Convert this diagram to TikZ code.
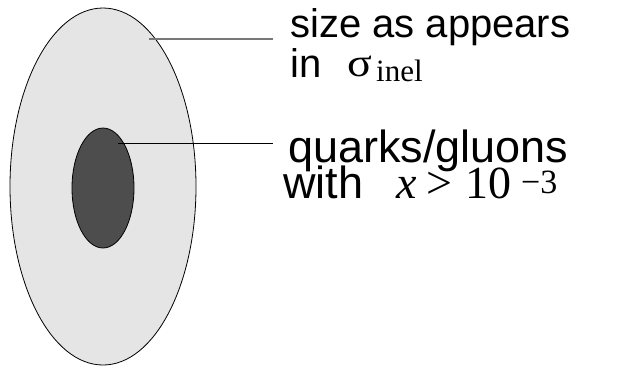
\documentclass[tikz,border=0pt]{standalone}
\usepackage{fontspec}
\setmainfont{Liberation Sans}
\newfontfamily\seriffont{Liberation Serif}
\usetikzlibrary{shapes.geometric}
\definecolor{outerfill}{RGB}{229,229,229}
\definecolor{innerfill}{RGB}{77,77,77}
\definecolor{leadgray}{RGB}{120,120,120}
\begin{document}
\begin{tikzpicture}[x=1pt,y=-1pt,
  blob/.style={draw=black, line width=0.8pt, ellipse, inner sep=0pt},
  labelbase/.style={anchor=base west, inner sep=0pt},
  sansA/.style={labelbase, font=\fontsize{40}{40}\selectfont},
  sansB/.style={labelbase, font=\fontsize{45}{45}\selectfont},
  serifbig/.style={labelbase, font=\fontsize{46}{46}\selectfont\seriffont},
  serifsub/.style={labelbase, font=\fontsize{31}{31}\selectfont\seriffont},
  serifsup/.style={labelbase, font=\fontsize{34}{34}\selectfont\seriffont}]
\useasboundingbox (0,0) rectangle (618,368);
% nucleon and its dense core
\node[blob, fill=outerfill, minimum width=186pt, minimum height=357pt] (outer) at (103,186.5) {};
\node[blob, fill=innerfill, minimum width=62pt, minimum height=120pt] (inner) at (103,188) {};
% labels
\node[sansA] (sizeA) at (290,37) {size as appears};
\node[sansA] (sizeB) at (290,77) {in};
\node[labelbase, font=\fontsize{40}{40}\selectfont\seriffont] (sigma) at (347,76) {\scalebox{1.15}[1]{σ}};
\node[serifsub] (inel) at (376,81) {inel};
\node[sansB] (qgA) at (288,162) {quarks/gluons};
\node[sansB] (qgB) at (283,198) {with};
\node[serifbig] (xvar) at (396,198) {\itshape x};
\node[serifbig] (gt) at (426,198) {>};
\node[serifbig] (ten) at (465,198) {10};
\node[serifsup] (expo) at (521,193) {−3};
% leader lines
\coordinate (a1) at (149,38.7);
\coordinate (a2) at (273,38.7);
\coordinate (b1) at (118,143);
\coordinate (b2) at (273,143);
\draw[leadgray, line width=2pt] (a1) -- (a2);
\draw[black, line width=1pt] (b1) -- (b2);
\end{tikzpicture}
\end{document}
